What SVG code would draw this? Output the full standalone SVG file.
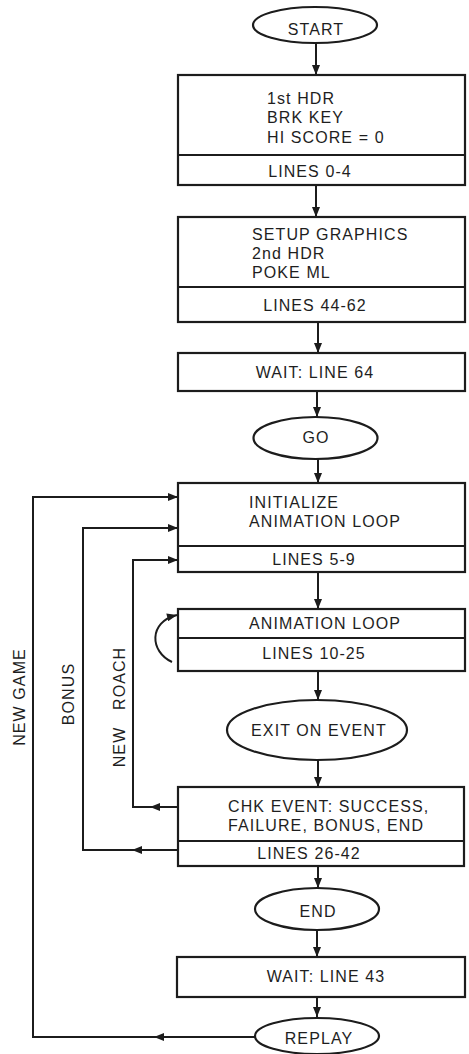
<svg xmlns="http://www.w3.org/2000/svg" width="469" height="1054" viewBox="0 0 469 1054">
<defs>
<marker id="ah" viewBox="0 0 10 8" refX="10" refY="4" markerWidth="11" markerHeight="8" markerUnits="userSpaceOnUse" orient="auto">
<path d="M0,0 L10,4 L0,8 Z" fill="#1c1c1c"/>
</marker>
</defs>
<style>
.s{fill:#fff;stroke:#1c1c1c;stroke-width:2.2}
.d{stroke:#1c1c1c;stroke-width:2.2;fill:none}
.c{stroke:#1c1c1c;stroke-width:2;fill:none;marker-end:url(#ah)}
text{font-family:"Liberation Sans",Arial,sans-serif;font-size:16px;fill:#1e1e1e;letter-spacing:1.1px}
.m{text-anchor:middle}
</style>
<rect width="469" height="1054" fill="#fff"/>
<g id="connectors">
<line class="c" x1="316" y1="43" x2="316" y2="75"/>
<line class="c" x1="316" y1="185" x2="316" y2="217"/>
<line class="c" x1="318" y1="322" x2="318" y2="353"/>
<line class="c" x1="317" y1="391" x2="317" y2="417"/>
<line class="c" x1="318" y1="459" x2="318" y2="483"/>
<line class="c" x1="318" y1="572" x2="318" y2="609"/>
<line class="c" x1="318" y1="671" x2="318" y2="700"/>
<line class="c" x1="318" y1="760" x2="318" y2="787"/>
<line class="c" x1="318" y1="866" x2="318" y2="888"/>
<line class="c" x1="317" y1="930" x2="317" y2="957"/>
<line class="c" x1="317" y1="997" x2="317" y2="1017"/>
<path class="c" d="M172,662 C150,652 148,622 177,615"/>
<line class="c" x1="178" y1="807" x2="150" y2="807"/>
<polyline class="c" points="150,807 133,807 133,560 178,560"/>
<line class="c" x1="178" y1="850" x2="132" y2="850"/>
<polyline class="c" points="132,850 83,850 83,528 178,528"/>
<line class="c" x1="255" y1="1037" x2="154" y2="1037"/>
<polyline class="c" points="154,1037 33,1037 33,497 178,497"/>
</g>
<g id="start"><ellipse class="s" cx="315" cy="25" rx="62" ry="18"/><text class="m" x="316" y="35">START</text></g>
<g id="box1"><rect class="s" x="178" y="75" width="287" height="110"/><line class="d" x1="178" y1="155" x2="465" y2="155"/>
<text x="267" y="104">1st HDR</text><text x="267" y="123">BRK KEY</text><text x="267" y="143">HI SCORE = 0</text>
<text class="m" x="310" y="177">LINES 0-4</text></g>
<g id="box2"><rect class="s" x="178" y="217" width="287" height="105"/><line class="d" x1="178" y1="287" x2="465" y2="287"/>
<text x="252" y="240">SETUP GRAPHICS</text><text x="252" y="259">2nd HDR</text><text x="252" y="278">POKE ML</text>
<text class="m" x="315" y="311">LINES 44-62</text></g>
<g id="box3"><rect class="s" x="178" y="353" width="287" height="38"/><text class="m" x="315" y="378">WAIT: LINE 64</text></g>
<g id="go"><ellipse class="s" cx="315.5" cy="438" rx="62" ry="21"/><text class="m" x="316" y="443">GO</text></g>
<g id="box4"><rect class="s" x="178" y="483" width="287" height="89"/><line class="d" x1="178" y1="546" x2="465" y2="546"/>
<text x="249" y="508">INITIALIZE</text><text x="249" y="527">ANIMATION LOOP</text>
<text class="m" x="314" y="565">LINES 5-9</text></g>
<g id="box5"><rect class="s" x="178" y="609" width="287" height="62"/><line class="d" x1="178" y1="638" x2="465" y2="638"/>
<text class="m" x="325" y="629">ANIMATION LOOP</text><text class="m" x="314" y="659">LINES 10-25</text></g>
<g id="exit"><ellipse class="s" cx="317" cy="730" rx="90" ry="30"/><text class="m" x="319" y="736">EXIT ON EVENT</text></g>
<g id="box6"><rect class="s" x="178" y="787" width="286" height="79"/><line class="d" x1="178" y1="841" x2="464" y2="841"/>
<text x="228" y="812">CHK EVENT: SUCCESS,</text><text x="228" y="831">FAILURE, BONUS, END</text>
<text class="m" x="309" y="859">LINES 26-42</text></g>
<g id="end"><ellipse class="s" cx="317" cy="909" rx="62" ry="21"/><text class="m" x="318" y="917">END</text></g>
<g id="box7"><rect class="s" x="177" y="957" width="288" height="40"/><text class="m" x="326" y="982">WAIT: LINE 43</text></g>
<g id="replay"><ellipse class="s" cx="317" cy="1036" rx="62" ry="18"/><text class="m" x="319" y="1044">REPLAY</text></g>
<g id="labels">
<text class="m" transform="rotate(-90 25 697)" x="25" y="697">NEW GAME</text>
<text class="m" transform="rotate(-90 74 694)" x="74" y="694">BONUS</text>
<text class="m" transform="rotate(-90 125 707)" x="125" y="707" xml:space="preserve">NEW   ROACH</text>
</g>
</svg>
